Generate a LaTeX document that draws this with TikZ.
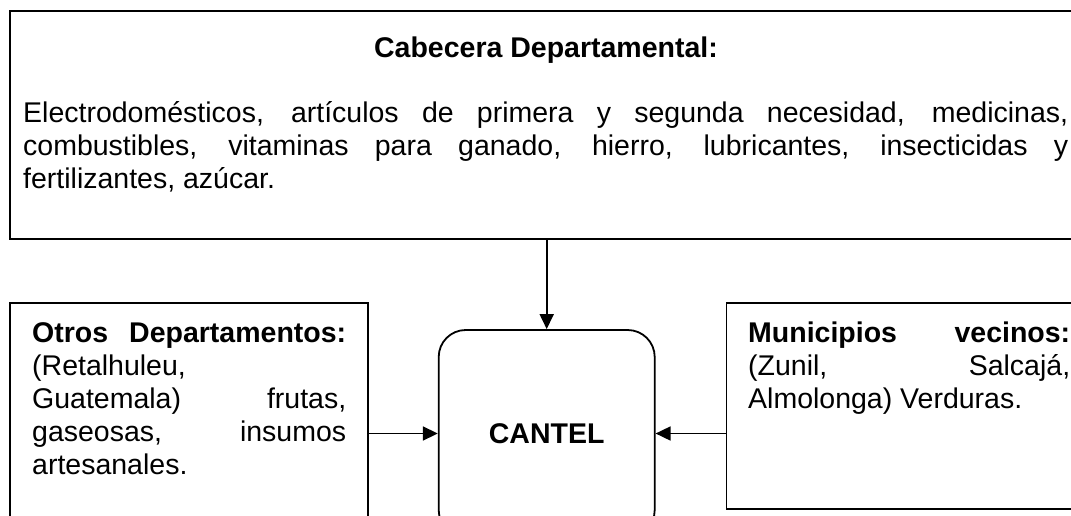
\documentclass[tikz,border=0pt]{standalone}
\usepackage{fontspec}
\setmainfont{Liberation Sans}
\usetikzlibrary{arrows.meta}
\newcommand\fsz{\fontsize{28.5}{33}\selectfont}
\newcommand\lines[1]{\vtop{\fsz\baselineskip=33pt\lineskiplimit=-100pt\lineskip=0pt #1}}
\begin{document}
\begin{tikzpicture}[x=1pt,y=-1pt,
  box/.style={draw, line width=1.8pt, inner sep=0pt, rectangle},
  conn/.style={line width=1.8pt, -{Triangle[length=15pt,width=14pt]}},
  txt/.style={inner sep=0pt, anchor=base west},
]
\clip (0,0) rectangle (1071,516);
% boxes
\node[box, minimum width=1074pt, minimum height=228pt] (cab) at (547,125) {};
\node[box, minimum width=357.6pt, minimum height=237pt] (otros) at (188.8,421.5) {};
\node[box, minimum width=364.5pt, minimum height=206pt] (muni) at (908.75,406) {};
\node[box, rounded corners=27pt, minimum width=216pt, minimum height=207pt, font=\fsz\bfseries] (cantel) at (546.7,433.5) {CANTEL};
% texts
\node[inner sep=0pt, anchor=base, font=\fsz\bfseries] (cabh) at (546,58) {Cabecera Departamental:};
\node[txt] (cabt) at (23,123) {\lines{%
\hbox to 1045pt{Electrodomésticos, artículos de primera y segunda necesidad, medicinas,}
\hbox to 1045pt{combustibles, vitaminas para ganado, hierro, lubricantes, insecticidas y}
\hbox{fertilizantes, azúcar.}}};
\node[txt] (otrost) at (32,342) {\lines{%
\hbox to 314pt{\bfseries Otros Departamentos:}
\hbox{(Retalhuleu,}
\hbox to 314pt{Guatemala) frutas,}
\hbox to 314pt{gaseosas, insumos}
\hbox{artesanales.}}};
\node[txt] (munit) at (748,342) {\lines{%
\hbox to 322pt{\bfseries Municipios vecinos:}
\hbox to 322pt{(Zunil, Salcajá,}
\hbox{Almolonga) Verduras.}}};
% connectors
\draw[conn] (cab.south -| cantel.north) -- (cantel.north);
\draw[conn] (otros.east |- cantel.west) -- (cantel.west);
\draw[conn] (muni.west |- cantel.east) -- (cantel.east);
\end{tikzpicture}
\end{document}
